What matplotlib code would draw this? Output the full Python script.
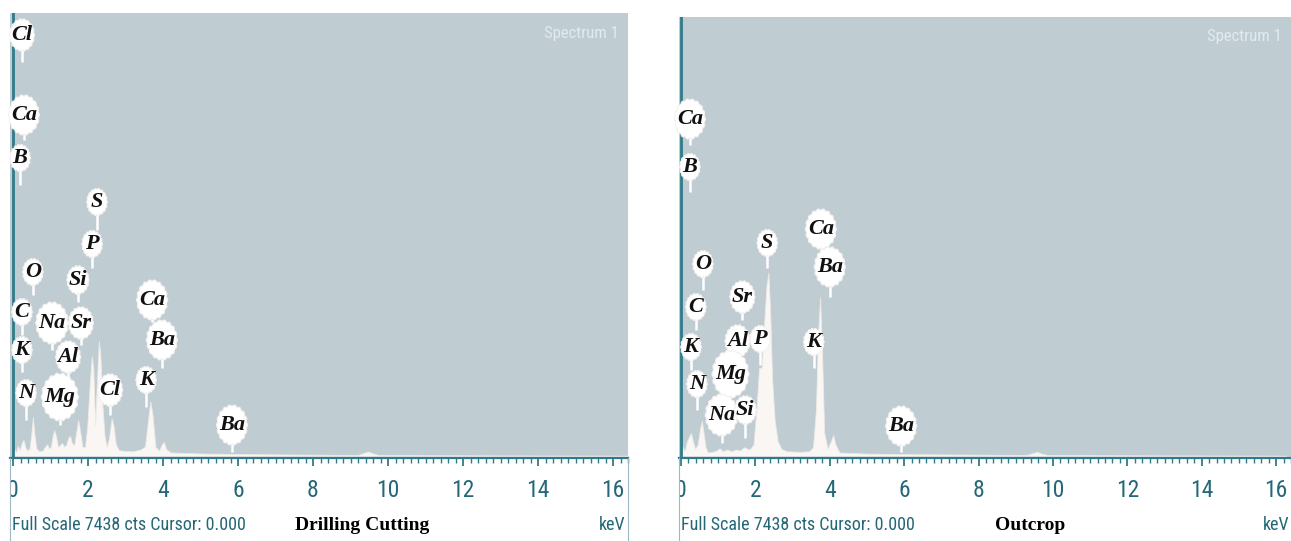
import matplotlib
matplotlib.use("Agg")
import matplotlib.pyplot as plt
from matplotlib.lines import Line2D
from matplotlib.path import Path
from matplotlib.transforms import Bbox, TransformedBbox
import numpy as np

W, H = 1291, 541

# EDS spectra traced as (energy keV, counts)
dc_energy = [0.00, 0.04, 0.08, 0.13, 0.18, 0.24, 0.28, 0.33, 0.38, 0.44, 0.49, 0.53, 0.57,
             0.62, 0.70, 0.78, 0.86, 0.91, 0.96, 1.01, 1.06, 1.10, 1.15, 1.20, 1.26, 1.31,
             1.36, 1.42, 1.48, 1.52, 1.57, 1.63, 1.68, 1.74, 1.79, 1.85, 1.92, 1.98, 2.05,
             2.10, 2.14, 2.19, 2.24, 2.29, 2.33, 2.38, 2.44, 2.50, 2.56, 2.63, 2.68, 2.74,
             2.82, 3.00, 3.20, 3.40, 3.52, 3.60, 3.66, 3.72, 3.80, 3.90, 3.97, 4.02, 4.08,
             4.20, 4.60, 5.20, 6.00, 7.00, 8.00, 9.20, 9.35, 9.47, 9.60, 9.75, 11.0, 13.0,
             15.0, 16.4]
dc_counts = [0, 120, 60, 170, 100, 230, 272, 150, 90, 130, 380, 660, 380,
             130, 80, 90, 160, 200, 130, 150, 350, 440, 330, 150, 190, 220,
             160, 190, 320, 340, 220, 180, 380, 610, 420, 160, 150, 500, 1250,
             1700, 1500, 520, 1300, 1950, 1700, 900, 350, 150, 300, 640, 520, 200,
             100, 85, 80, 110, 160, 600, 930, 700, 150, 90, 200, 238, 120,
             60, 50, 40, 35, 28, 22, 18, 50, 75, 45, 18, 14, 10,
             7, 5]

oc_energy = [0.00, 0.05, 0.10, 0.16, 0.22, 0.27, 0.32, 0.38, 0.45, 0.51, 0.56, 0.61, 0.66,
             0.72, 0.85, 0.95, 1.04, 1.12, 1.25, 1.35, 1.48, 1.58, 1.70, 1.76, 1.85, 1.95,
             2.03, 2.10, 2.17, 2.25, 2.30, 2.35, 2.40, 2.45, 2.52, 2.60, 2.70, 2.85, 3.20,
             3.45, 3.55, 3.63, 3.68, 3.74, 3.79, 3.85, 3.94, 4.03, 4.09, 4.15, 4.26, 5.00,
             6.00, 8.00, 9.30, 9.45, 9.57, 9.70, 9.85, 12.0, 16.27]
oc_counts = [0, 150, 80, 250, 330, 390, 250, 120, 200, 450, 600, 380, 150,
             60, 70, 90, 130, 80, 110, 80, 110, 90, 150, 130, 110, 200,
             800, 1500, 1500, 2400, 2900, 3110, 2400, 1300, 600, 250, 120, 80, 70,
             80, 150, 800, 2000, 2690, 1800, 400, 120, 250, 355, 200, 60, 40,
             32, 22, 18, 50, 70, 40, 18, 12, 5]

# element labels: text, energy of the stem, label height, stem foot height (counts)
dc_labels = ["Cl", "Ca", "B", "S", "P", "O", "Si", "C", "Na", "Sr", "Ca", "K", "Al",
             "Ba", "K", "N", "Mg", "Cl", "Ba"]
dc_lab_e = [0.24, 0.29, 0.19, 2.24, 2.11, 0.53, 1.73, 0.24, 1.04, 1.81, 3.71, 0.24, 1.47,
            3.97, 3.55, 0.35, 1.25, 2.59, 5.84]
dc_lab_y = [7157, 5797, 5066, 4318, 3604, 3128, 2992, 2448, 2261, 2261, 2652, 1802, 1683,
            1972, 1292, 1071, 1003, 1122, 527]
dc_lab_foot = [6698, 5372, 4607, 3842, 3196, 2737, 2618, 2057, 1802, 1887, 2278, 1428, 1258,
               1496, 833, 612, 527, 697, 68]

oc_labels = ["Ca", "B", "O", "C", "Sr", "S", "Ca", "Ba", "Al", "P", "K", "K", "Mg",
             "N", "Na", "Si", "Ba"]
oc_lab_e = [0.24, 0.24, 0.59, 0.40, 1.65, 2.32, 3.76, 4.00, 1.52, 2.13, 3.57, 0.27, 1.33,
            0.43, 1.09, 1.73, 5.92]
oc_lab_y = [5729, 4913, 3264, 2533, 2703, 3621, 3859, 3213, 1955, 1989, 1938, 1853, 1394,
            1224, 697, 782, 510]
oc_lab_foot = [5287, 4488, 2822, 2142, 2312, 3196, 3468, 2703, 1547, 1547, 1496, 1462, 952,
               782, 221, 306, 68]

tick_values = [0, 2, 4, 6, 8, 10, 12, 14, 16]

BG = "#bfcdd3"
FILL = "#faf6f4"
TEAL = "#2f7a8b"
TEXT_TEAL = "#246878"
NARROW = ["Roboto Condensed", "DejaVu Sans"]

fig = plt.figure(figsize=(W / 100, H / 100), dpi=100)
fig.patch.set_facecolor("white")


def bubble(x0, y0, width, height, mutation_size):
    # upright oval with a slightly wavy rim, sized around the label text
    cx, cy = x0 + width / 2, y0 + height / 2
    rx = max(width * 0.58, 10)
    ry = max(height * 0.66, rx * 1.3)
    th = np.linspace(0, 2 * np.pi, 145)
    r = 1 + 0.035 * np.cos(18 * th)
    verts = np.column_stack([cx + rx * r * np.cos(th), cy + ry * r * np.sin(th)])
    return Path(verts, closed=True)


def px_axes(x0, x1, ytop, ybot):
    return fig.add_axes([x0 / W, (H - ybot) / H, (x1 - x0) / W, (ybot - ytop) / H])


def draw_panel(ax, energy, counts, labels, lab_e, lab_y, lab_foot, xlim, ytop_cts, px0, px1):
    ax.set_facecolor(BG)
    ax.set_xlim(*xlim)
    ax.set_ylim(-34, ytop_cts)
    ax.fill_between(energy, 0, counts, color=FILL, lw=0.6, ec="#eee9e6", zorder=2)
    ax.axvline(0, color=TEAL, lw=2, zorder=3)

    for s in ["top", "right", "left"]:
        ax.spines[s].set_visible(False)
    ax.spines["bottom"].set_color(TEAL)
    ax.spines["bottom"].set_linewidth(1.6)
    ax.set_yticks([])
    ax.set_xticks(tick_values)
    ax.set_xticks(np.arange(0, 16.5, 0.2), minor=True)
    ax.tick_params(axis="x", which="major", direction="out", length=6, width=1.3,
                   color=TEAL, pad=9, labelsize=17, labelcolor=TEXT_TEAL)
    ax.tick_params(axis="x", which="minor", direction="out", length=3.5, width=1.0,
                   color=TEAL)
    clip = TransformedBbox(Bbox([[px0 / W, 0], [px1 / W, 1]]), fig.transFigure)
    for lab in ax.get_xticklabels():
        lab.set_family(NARROW)
        lab.set_clip_box(clip)
        lab.set_clip_on(True)

    # peak labels with their stems
    for t, e, y, f in zip(labels, lab_e, lab_y, lab_foot):
        ax.plot([e, e], [y, f], color="white", lw=1.8, zorder=4, solid_capstyle="butt")
        ax.text(e, y, t, ha="center", va="center", fontsize=16, fontweight="bold",
                fontstyle="italic", family="Liberation Serif", color="#111111", zorder=6,
                bbox=dict(boxstyle=bubble, fc="white", ec="#f4f1ef", lw=0.8))

    ax.text(0.985, 0.955, "Spectrum 1", transform=ax.transAxes, ha="right", va="center",
            fontsize=12, color="#e2eaed", family=NARROW, zorder=5)


ax1 = px_axes(10, 628, 13, 458)
draw_panel(ax1, dc_energy, dc_counts, dc_labels, dc_lab_e, dc_lab_y, dc_lab_foot,
           (-0.08, 16.40), 7531, 10, 628)

ax2 = px_axes(679, 1291, 17, 458)
draw_panel(ax2, oc_energy, oc_counts, oc_labels, oc_lab_e, oc_lab_y, oc_lab_foot,
           (-0.053, 16.267), 7463, 679, 1291)

# thin frame lines down the sides of each panel
for xp in [10, 628, 679]:
    fig.add_artist(Line2D([xp / W, xp / W], [0, (H - 458) / H], transform=fig.transFigure,
                          color="#9fb8c1", lw=0.8))

ybase = (H - 525) / H
for xp, name, xc, kx in [(12, "Drilling Cutting", 362, 626), (681, "Outcrop", 1030, 1289)]:
    fig.text(xp / W, ybase, "Full Scale 7438 cts Cursor: 0.000", ha="left", va="center",
             fontsize=13, color=TEXT_TEAL, family=NARROW)
    fig.text(xc / W, ybase, name, ha="center", va="center", fontsize=14,
             fontweight="bold", family="Liberation Serif", color="black")
    fig.text(kx / W, ybase, "keV", ha="right", va="center", fontsize=13,
             color=TEXT_TEAL, family=NARROW)

fig.savefig("out.png", dpi=100)
